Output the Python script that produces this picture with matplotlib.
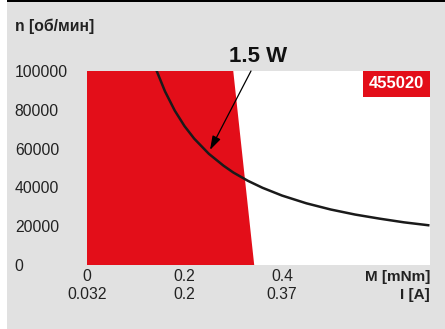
import numpy as np
import matplotlib.pyplot as plt
from matplotlib.patches import Rectangle

plt.rcParams['font.family'] = ['Liberation Sans', 'DejaVu Sans']

# operating range (red area), torque M [mNm] vs speed n [rpm]
red_M = [0.0, 0.0, 0.30, 0.343]
red_n = [0, 100000, 100000, 0]

# 1.5 W power curve
curve_M = [0.143, 0.16, 0.18, 0.20, 0.22, 0.25, 0.28, 0.30, 0.33, 0.36, 0.40,
           0.45, 0.50, 0.55, 0.60, 0.65, 0.70]
curve_n = [100000, 89500, 79600, 71600, 65100, 57300, 51200, 47700, 43400,
           39800, 35800, 31800, 28600, 26000, 23900, 22000, 20500]

x_ticks = [0.0, 0.2, 0.4]
x_labels_M = ['0', '0.2', '0.4']
x_labels_I = ['0.032', '0.2', '0.37']
y_ticks = [0, 20000, 40000, 60000, 80000, 100000]

motor_id = '455020'
power_label = '1.5 W'

red = '#e30e19'
gray = '#e1e1e1'
txt = '#222222'

fig = plt.figure(figsize=(4.45, 3.29), dpi=100, facecolor='white')

# panel background and top rule
fig.patches.append(Rectangle((7 / 445, 0), 1 - 7 / 445, 1, transform=fig.transFigure,
                             facecolor=gray, edgecolor='none', zorder=-2))
fig.patches.append(Rectangle((7 / 445, 1 - 2 / 329), 1 - 7 / 445, 2 / 329,
                             transform=fig.transFigure, facecolor='black',
                             edgecolor='none', zorder=-1))

ax = fig.add_axes([87 / 445, 64 / 329, 343 / 445, 194 / 329])
ax.set_facecolor('white')
ax.set_xlim(0, 0.7036)
ax.set_ylim(0, 100000)

ax.fill(red_M, red_n, color=red, lw=0, zorder=1)
ax.plot(curve_M, curve_n, color='#1a1a1a', lw=1.8, zorder=3)

# label with arrow pointing at the curve
ax.annotate('', xy=(0.2523, 59300), xytext=(0.3364, 100000),
            arrowprops=dict(arrowstyle='-|>,head_length=0.7,head_width=0.22',
                            color='black', lw=0.9, mutation_scale=12,
                            shrinkA=0, shrinkB=0),
            annotation_clip=False, zorder=4)
ax.text(0.3508, 107700, power_label, ha='center', va='center', fontsize=16,
        fontweight='bold', color='#111111', clip_on=False)

# motor id tag
ax.add_patch(Rectangle((0.8047, 0.866), 1 - 0.8047, 0.134, transform=ax.transAxes,
                       facecolor=red, edgecolor='none', zorder=5))
ax.text(0.9024, 0.933, motor_id, transform=ax.transAxes, ha='center', va='center',
        color='white', fontsize=12, fontweight='bold', zorder=6)

for s in ax.spines.values():
    s.set_visible(False)

ax.set_yticks(y_ticks)
ax.set_yticklabels([str(v) for v in y_ticks], ha='left', fontsize=11.3, color=txt)
ax.tick_params(axis='y', length=0, pad=52)
ax.get_yticklabels()[0].set_y(-1200)

ax.set_xticks(x_ticks)
ax.set_xticklabels([m + '\n' + i for m, i in zip(x_labels_M, x_labels_I)],
                   fontsize=11.3, color=txt, linespacing=1.2)
ax.tick_params(axis='x', length=0, pad=3)

fig.text(430 / 445, 1 - 277 / 329, 'M [mNm]', ha='right', va='center',
         fontsize=11, fontweight='bold', color=txt)
fig.text(430 / 445, 1 - 295 / 329, 'I [A]', ha='right', va='center',
         fontsize=11, fontweight='bold', color=txt)
fig.text(15 / 445, 1 - 26 / 329, 'n [об/мин]', ha='left', va='center',
         fontsize=11.3, fontweight='bold', color=txt)

fig.savefig('out.png', dpi=100, facecolor=fig.get_facecolor())
